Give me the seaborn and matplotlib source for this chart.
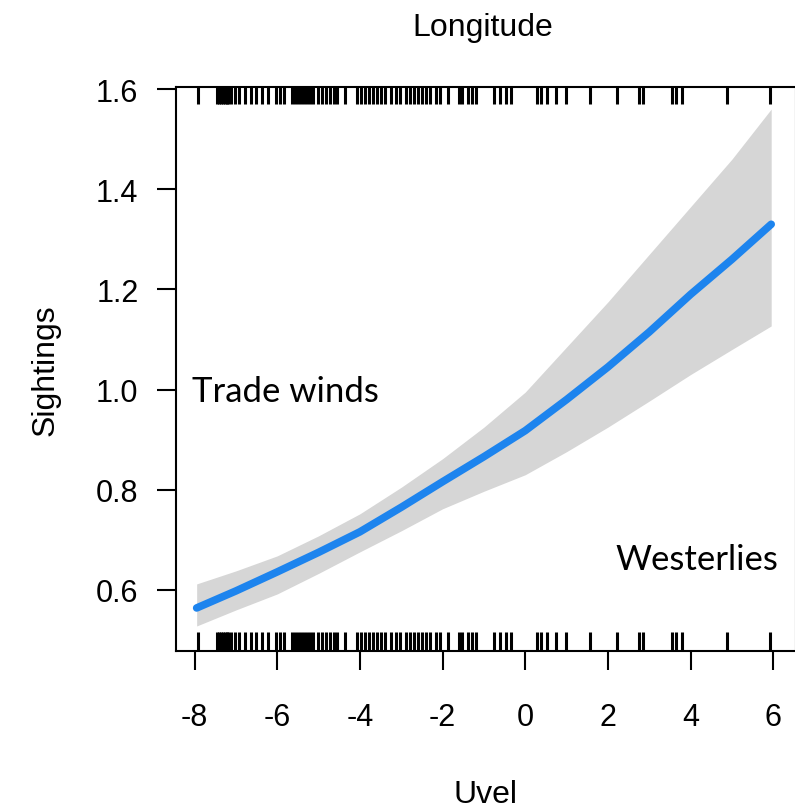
import matplotlib
matplotlib.use("Agg")
import matplotlib.pyplot as plt
import seaborn as sns
import numpy as np
import pandas as pd

# ---- data ----
uvel = [-7.95, -7, -6, -5, -4, -3, -2, -1, 0, 1, 2, 3, 4, 5, 5.95]
fit = [0.564, 0.598, 0.636, 0.675, 0.716, 0.765, 0.816, 0.866, 0.918, 0.98, 1.045, 1.115, 1.19, 1.26, 1.330]
lower = [0.528, 0.560, 0.592, 0.633, 0.676, 0.718, 0.762, 0.797, 0.830, 0.876, 0.925, 0.977, 1.030, 1.080, 1.127]
upper = [0.612, 0.638, 0.668, 0.708, 0.752, 0.805, 0.862, 0.925, 0.995, 1.085, 1.175, 1.270, 1.365, 1.460, 1.560]

rug_x = [-7.91, -7.47, -7.42, -7.37, -7.32, -7.27, -7.22, -7.18, -7.13, -7.03, -6.93,
         -6.79, -6.64, -6.52, -6.38, -6.23, -6.04, -5.94, -5.84, -5.65, -5.58, -5.51,
         -5.43, -5.36, -5.29, -5.21, -5.14, -5.02, -4.92, -4.83, -4.73, -4.63, -4.56,
         -4.37, -4.08, -3.98, -3.88, -3.79, -3.69, -3.59, -3.50, -3.40, -3.25, -3.13,
         -3.04, -2.89, -2.79, -2.70, -2.60, -2.50, -2.41, -2.31, -2.16, -2.07, -1.87,
         -1.61, -1.53, -1.39, -1.29, -1.19, -0.76, -0.61, -0.47, -0.35, 0.28, 0.38,
         0.52, 0.74, 0.99, 1.57, 2.22, 2.75, 2.85, 3.55, 3.65, 3.79, 4.88, 5.93]

xticks = [-8, -6, -4, -2, 0, 2, 4, 6]
yticks = [0.6, 0.8, 1.0, 1.2, 1.4, 1.6]
ytick_labels = ["0.6", "0.8", "1.0", "1.2", "1.4", "1.6"]

x_label = "Uvel"
y_label = "Sightings"
top_label = "Longitude"
note_left = "Trade winds"
note_right = "Westerlies"

# ---- plot ----
sns.set_theme(style="white")
plt.rcParams["font.family"] = ["Liberation Sans", "DejaVu Sans"]
plt.rcParams["text.color"] = "black"
plt.rcParams["axes.labelcolor"] = "black"

fig = plt.figure(figsize=(7.95, 8.12), dpi=100)
ax = fig.add_axes([176 / 795, 0.197, 620 / 795, 0.6946])

df = pd.DataFrame({"Uvel": uvel, "fit": fit, "lower": lower, "upper": upper})

ax.fill_between(df["Uvel"], df["lower"], df["upper"], color="#d6d6d6", lw=0, zorder=1)
sns.lineplot(data=df, x="Uvel", y="fit", ax=ax, color="#1d84ee", lw=5.5,
             solid_capstyle="round", zorder=3)

sns.rugplot(x=rug_x, ax=ax, height=0.034, color="black", linewidth=2.2,
            expand_margins=False, zorder=4)
ax.vlines(rug_x, 1 - 0.03, 1, transform=ax.get_xaxis_transform(),
          color="black", linewidth=2.2, zorder=4)

ax.set_xlim(-8.45, 6.55)
ax.set_ylim(0.478, 1.604)
ax.set_xticks(xticks)
ax.set_xticklabels([str(t) for t in xticks])
ax.set_yticks(yticks)
ax.set_yticklabels(ytick_labels)

for s in ax.spines.values():
    s.set_visible(True)
    s.set_color("black")
    s.set_linewidth(1.5)

ax.tick_params(axis="x", bottom=True, top=False, length=14, width=1.5,
               direction="out", pad=23, labelsize=22, colors="black")
ax.tick_params(axis="y", left=True, right=False, length=14, width=1.5,
               direction="out", pad=13, labelsize=22, colors="black")

ax.set_xlabel(x_label, fontsize=23, va="center", color="black")
ax.xaxis.set_label_coords(0.5, -0.254)
ax.set_ylabel(y_label, fontsize=23, va="center", color="black")
ax.yaxis.set_label_coords(-0.211, 0.5)
ax.text(0.495, 1.106, top_label, transform=ax.transAxes, ha="center",
        va="center", fontsize=23, color="black")

ax.text(-8.07, 0.997, note_left, ha="left", va="center", fontsize=25,
        family=["Lato", "DejaVu Sans"], color="black", zorder=5)
ax.text(6.12, 0.662, note_right, ha="right", va="center", fontsize=25,
        family=["Lato", "DejaVu Sans"], color="black", zorder=5)

ax.grid(False)
fig.patch.set_facecolor("white")
ax.set_facecolor("white")

fig.savefig("out.png", dpi=100)
